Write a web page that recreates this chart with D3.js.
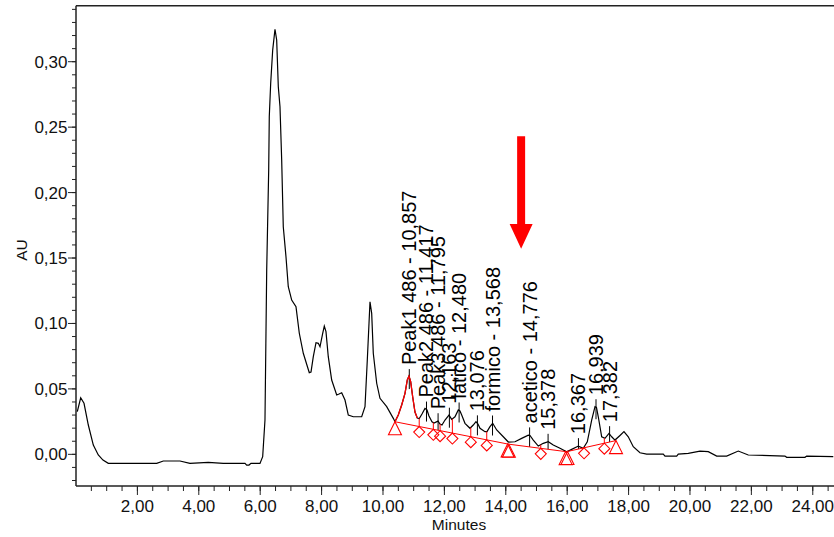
<!DOCTYPE html>
<html><head><meta charset="utf-8">
<script src="https://cdn.jsdelivr.net/npm/d3@7"></script>
<style>body{margin:0;background:#fff}svg{display:block;font-family:"Liberation Sans",Arial,sans-serif}</style>
</head><body><svg id="c" width="834" height="537"></svg>
<script>
// ---- data (minutes, AU) ----
const traceT = [0.042,0.153,0.261,0.401,0.564,0.726,0.879,1.052,2.629,2.844,3.388,3.713,4.309,4.798,5.505,5.560,5.635,5.700,5.993,6.081,6.156,6.212,6.277,6.296,6.342,6.407,6.482,6.537,6.590,6.645,6.700,6.752,6.840,6.915,7.026,7.166,7.274,7.404,7.599,7.655,7.730,7.818,7.893,7.948,8.036,8.088,8.143,8.218,8.329,8.492,8.567,8.655,8.762,8.870,9.033,9.306,9.414,9.489,9.577,9.632,9.684,9.795,9.902,10.121,10.336,10.391,
10.498,10.609,10.717,10.792,10.847,10.902,10.967,11.042,11.117,11.182,11.270,11.368,11.433,11.498,11.596,11.661,11.792,11.857,11.922,12.020,12.150,12.238,12.345,12.453,12.508,12.564,12.671,12.834,12.941,13.029,13.094,13.160,13.322,13.388,13.485,13.573,13.704,13.919,14.082,14.300,14.518,14.733,14.788,14.896,15.059,15.221,15.384,15.547,15.765,15.984,16.147,16.362,16.524,16.655,16.798,16.906,16.954,17.013,17.124,17.231,17.362,17.450,17.557,17.720,17.850,17.990,18.153,18.371,18.590,19.130,19.186,19.567,19.619,19.945,20.326,20.596,20.870,21.195,21.573,21.899,23.094,23.150,23.746,23.801,24.668];
const traceV = [0.0326,0.0432,0.0390,0.0224,0.0071,-0.0005,-0.0044,-0.0069,-0.0069,-0.0051,-0.0051,-0.0069,-0.0061,-0.0069,-0.0069,-0.0082,-0.0082,-0.0069,-0.0069,-0.0018,0.0262,0.1408,0.2172,0.2580,0.2835,0.3089,0.3248,0.3166,0.2809,0.2656,0.2249,0.1739,0.1510,0.1281,0.1179,0.1128,0.0925,0.0772,0.0624,0.0629,0.0746,0.0853,0.0848,0.0822,0.0925,0.0980,0.0937,0.0746,0.0568,0.0453,0.0461,0.0471,0.0415,0.0300,0.0287,0.0287,0.0364,0.0721,0.1166,0.1077,0.0772,0.0543,0.0428,0.0364,0.0275,0.0249,
0.0300,0.0377,0.0466,0.0568,0.0598,0.0555,0.0440,0.0323,0.0277,0.0274,0.0308,0.0351,0.0339,0.0293,0.0249,0.0239,0.0254,0.0232,0.0224,0.0262,0.0300,0.0267,0.0287,0.0339,0.0331,0.0300,0.0237,0.0199,0.0224,0.0249,0.0232,0.0199,0.0173,0.0174,0.0211,0.0237,0.0186,0.0134,0.0094,0.0096,0.0122,0.0147,0.0144,0.0109,0.0063,0.0084,0.0096,0.0071,0.0046,0.0020,0.0038,0.0063,0.0046,0.0096,0.0262,0.0364,0.0358,0.0287,0.0134,0.0122,0.0160,0.0134,0.0109,0.0144,0.0173,0.0134,0.0058,0.0012,0.0002,0.0002,-0.0013,-0.0013,0.0002,0.0008,0.0025,0.0020,-0.0013,-0.0013,0.0025,-0.0005,-0.0013,-0.0023,-0.0023,-0.0013,-0.0018];

const peakTimes  = [10.857,11.417,11.795,12.163,12.480,13.076,13.568,14.776,15.378,16.367,16.939,17.382];
const peakLabels = ["Peak1 486 - 10,857","Peak2 486 - 11,417","Peak3 486 - 11,795","12,163","latico - 12,480","13,076","formico - 13,568","acetico - 14,776","15,378","16,367","16,939","17,382"];

const baselineT = [10.39,14.08,15.98,17.59];
const baselineV = [0.0249,0.0078,0.0020,0.0105];
const triangleT = [10.39,14.06,14.10,15.95,16.01,17.59];
const diamondT  = [11.18,11.64,11.86,12.26,12.86,13.38,15.14,16.55,17.21];
const redPeakRange = [10.39,11.18];

const xTicks = [2,4,6,8,10,12,14,16,18,20,22,24];
const yTicks = [0,0.05,0.10,0.15,0.20,0.25,0.30];

const arrowT = 14.5, arrowTopV = 0.243, arrowHeadV = 0.176, arrowTipV = 0.157;

// ---- scales ----
const svg = d3.select("#c");
const x = d3.scaleLinear().domain([0, 24.9]).range([76, 840.4]);
const y = d3.scaleLinear().domain([-0.0242, 0.3428]).range([486, 5.7]);
const fmt = v => d3.format(".2f")(v).replace(".", ",");

const trace = traceT.map((t,i)=>({t, v: traceV[i]}));
const interp = (ts, vs, t) => {
  for (let i=0;i<ts.length-1;i++) if (t>=ts[i] && t<=ts[i+1]) {
    const f=(t-ts[i])/(ts[i+1]-ts[i]); return vs[i]+f*(vs[i+1]-vs[i]);
  }
  return t<ts[0]?vs[0]:vs[vs.length-1];
};
const baseAt = t => interp(baselineT, baselineV, t);
const traceAt = t => interp(traceT, traceV, t);

const axisColor = "#222";

// top frame
svg.append("line").attr("x1",76).attr("x2",834).attr("y1",y.range()[1]).attr("y2",y.range()[1])
  .attr("stroke",axisColor).attr("stroke-width",1.5);

// y axis
const yAxisG = svg.append("g").attr("transform","translate(76,0)");
const yMinor = d3.range(-0.02, 0.345, 0.01);
yAxisG.selectAll("line.minor").data(yMinor).enter().append("line")
  .attr("x1",-4).attr("x2",0).attr("y1",d=>y(d)).attr("y2",d=>y(d)).attr("stroke",axisColor);
yAxisG.selectAll("line.major").data(yTicks).enter().append("line")
  .attr("x1",-8).attr("x2",0).attr("y1",d=>y(d)).attr("y2",d=>y(d)).attr("stroke",axisColor);
yAxisG.selectAll("text").data(yTicks).enter().append("text")
  .attr("x",-8.5).attr("y",d=>y(d)).attr("dy","0.35em").attr("text-anchor","end")
  .attr("font-size",17).attr("fill","#111").text(fmt);
yAxisG.append("line").attr("x1",0).attr("x2",0).attr("y1",y.range()[1]).attr("y2",486)
  .attr("stroke",axisColor).attr("stroke-width",1.5);

// x axis
const xAxisG = svg.append("g").attr("transform","translate(0,486)");
const xMinor = d3.range(0.5, 24.9, 0.5);
xAxisG.selectAll("line.minor").data(xMinor).enter().append("line")
  .attr("x1",d=>x(d)).attr("x2",d=>x(d)).attr("y1",0).attr("y2",5).attr("stroke",axisColor);
xAxisG.selectAll("line.major").data(xTicks).enter().append("line")
  .attr("x1",d=>x(d)).attr("x2",d=>x(d)).attr("y1",0).attr("y2",9).attr("stroke",axisColor);
xAxisG.selectAll("text").data(xTicks).enter().append("text")
  .attr("x",d=>x(d)).attr("y",20).attr("dy","0.35em").attr("text-anchor","middle")
  .attr("font-size",17).attr("fill","#111").text(fmt);
xAxisG.append("line").attr("x1",76).attr("x2",834).attr("y1",0).attr("y2",0)
  .attr("stroke",axisColor).attr("stroke-width",1.5);

// axis titles
svg.append("text").attr("x",459).attr("y",525).attr("text-anchor","middle").attr("dy","0.35em")
  .attr("font-size",15.5).attr("fill","#111").text("Minutes");
svg.append("text").attr("transform","translate(22,250) rotate(-90)").attr("text-anchor","middle")
  .attr("dy","0.35em").attr("font-size",15.5).attr("fill","#111").text("AU");

// peak label ticks
const red = "#ff0000";
peakTimes.forEach((t,i)=>{
  const px = x(t), py = y(traceAt(t));
  const bottom = Math.min(py+12, y(baseAt(t)));
  svg.append("line").attr("x1",px).attr("x2",px).attr("y1",py-8).attr("y2",bottom)
    .attr("stroke","#000").attr("stroke-width",1);
  svg.append("text").attr("transform",`translate(${px},${py-12}) rotate(-90)`)
    .attr("dy","0.35em").attr("font-size",20).attr("fill","#000").text(peakLabels[i]);
});

// trace
const line = d3.line().x(d=>x(d.t)).y(d=>y(d.v));
svg.append("path").datum(trace).attr("d",line).attr("fill","none").attr("stroke","#000").attr("stroke-width",1.2);
// red peak outline
svg.append("path").datum(trace.filter(d=>d.t>=redPeakRange[0]-0.001 && d.t<=redPeakRange[1]+0.001))
  .attr("d",line).attr("fill","none").attr("stroke",red).attr("stroke-width",1.3);

// baseline
svg.append("path").datum(baselineT.map((t,i)=>({t,v:baselineV[i]}))).attr("d",line)
  .attr("fill","none").attr("stroke",red).attr("stroke-width",1);

// drop lines
diamondT.forEach(t=>{
  const tv = traceAt(t), bv = baseAt(t);
  if (tv>bv) svg.append("line").attr("x1",x(t)).attr("x2",x(t)).attr("y1",y(tv)).attr("y2",y(bv))
    .attr("stroke",red).attr("stroke-width",1);
});

// triangles
triangleT.forEach(t=>{
  const px=x(t), py=y(baseAt(t));
  svg.append("path").attr("d",`M${px},${py} L${px+6.5},${py+13} L${px-6.5},${py+13} Z`)
    .attr("fill","none").attr("stroke",red).attr("stroke-width",1.1);
});
// diamonds
diamondT.forEach(t=>{
  const px=x(t), py=y(baseAt(t));
  svg.append("path").attr("d",`M${px},${py} L${px+5.5},${py+5.5} L${px},${py+11} L${px-5.5},${py+5.5} Z`)
    .attr("fill","none").attr("stroke",red).attr("stroke-width",1.1);
});

// red arrow
const ax = x(arrowT);
svg.append("path").attr("d",
  `M${ax-4},${y(arrowTopV)} L${ax+4},${y(arrowTopV)} L${ax+4},${y(arrowHeadV)} L${ax+11.5},${y(arrowHeadV)} L${ax},${y(arrowTipV)} L${ax-11.5},${y(arrowHeadV)} L${ax-4},${y(arrowHeadV)} Z`)
  .attr("fill",red);
</script></body></html>
